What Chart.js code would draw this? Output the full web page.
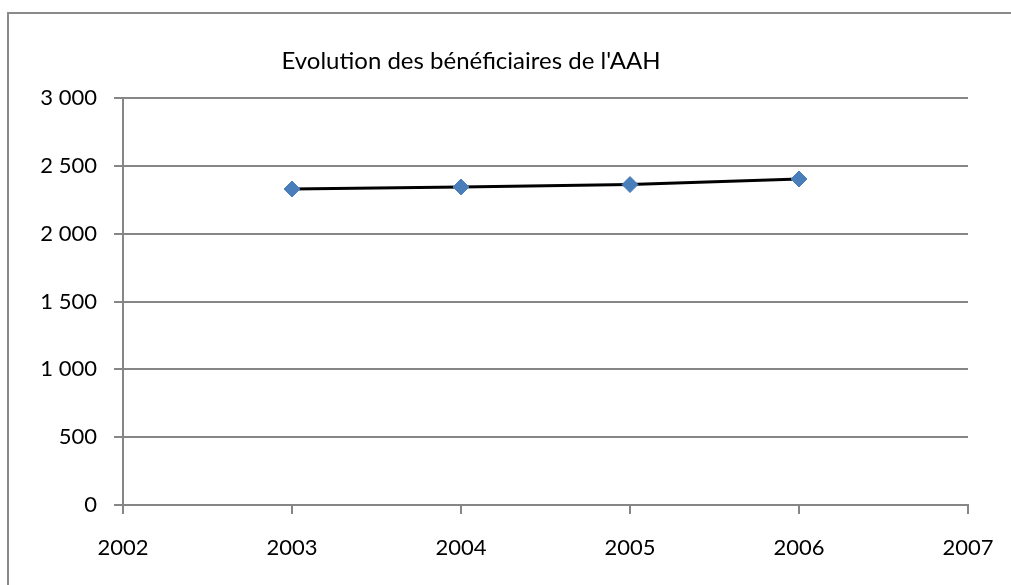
<!DOCTYPE html>
<html>
<head>
<meta charset="utf-8">
<script src="https://cdn.jsdelivr.net/npm/chart.js@4/dist/chart.umd.min.js"></script>
<style>
  html, body { margin: 0; padding: 0; background: #fff; }
  #wrap { position: relative; width: 1011px; height: 585px; overflow: hidden; }
  #frame { position: absolute; left: 7px; top: 12px; width: 1100px; height: 700px; border: 2px solid #8a8a8a; }
  #box { position: absolute; left: -26px; top: 0; width: 1067px; height: 585px; }
</style>
</head>
<body>
<div id="wrap">
  <div id="frame"></div>
  <div id="box"><canvas id="chart" width="1067" height="585"></canvas></div>
</div>
<script>
const years = [2003, 2004, 2005, 2006];
const beneficiaires = [2329, 2344, 2362, 2403];
const xTicks = [2002, 2003, 2004, 2005, 2006, 2007];
const yTicks = [0, 500, 1000, 1500, 2000, 2500, 3000];

const font = { family: 'Lato', size: 22 };
const gray = '#868686';

const points = years.map((y, i) => ({ x: y, y: beneficiaires[i] }));

function spaced(v) {
  return String(v).replace(/\B(?=(\d{3})+(?!\d))/g, ' ');
}

new Chart(document.getElementById('chart'), {
  type: 'scatter',
  data: {
    datasets: [{
      data: points,
      showLine: true,
      borderColor: '#000',
      borderWidth: 3,
      pointStyle: 'rectRot',
      pointRadius: 8,
      pointHoverRadius: 8,
      pointBackgroundColor: '#4a7ebb',
      pointBorderColor: '#4a7ebb',
      pointBorderWidth: 1
    }]
  },
  options: {
    responsive: false,
    animation: false,
    layout: { padding: { left: 0, right: 73, top: 0, bottom: 30 } },
    plugins: {
      legend: { display: false },
      tooltip: { enabled: false },
      title: {
        display: true,
        text: "Evolution des bénéficiaires de l'AAH",
        color: '#000',
        font: { family: 'Lato', size: 24, weight: 'normal', lineHeight: 1.2 },
        padding: { top: 46.8, bottom: 22.4 }
      }
    },
    scales: {
      x: {
        type: 'linear',
        min: xTicks[0],
        max: xTicks[xTicks.length - 1],
        afterBuildTicks: s => { s.ticks = xTicks.map(v => ({ value: v })); },
        afterFit: s => { s.height = 50; },
        ticks: { color: '#000', font: font, padding: 21, callback: v => String(v) },
        grid: { drawOnChartArea: false, drawTicks: true, tickLength: 9, color: gray, lineWidth: 2 },
        border: { color: gray, width: 2 }
      },
      y: {
        min: 0,
        max: 3000,
        afterBuildTicks: s => { s.ticks = yTicks.map(v => ({ value: v })); },
        afterFit: s => { s.width = 149; },
        ticks: { color: '#000', font: font, padding: 17, callback: v => spaced(v) },
        grid: { color: gray, lineWidth: 2, tickLength: 9 },
        border: { color: gray, width: 2 }
      }
    }
  }
});
</script>
</body>
</html>
